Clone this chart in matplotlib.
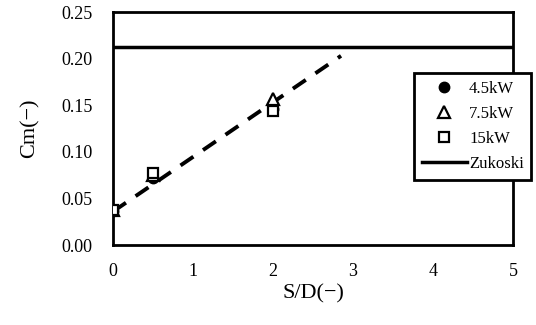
import matplotlib
matplotlib.use("Agg")
import matplotlib.pyplot as plt

sd = [0.0, 0.5, 2.0]
cm_45 = [0.036, 0.072, 0.146]
cm_75 = [0.038, 0.075, 0.157]
cm_15 = [0.038, 0.077, 0.144]
fit_x = [0.0, 2.85]
fit_y = [0.036, 0.203]
zukoski = 0.213
xticks = [0, 1, 2, 3, 4, 5]
yticks = [0.00, 0.05, 0.10, 0.15, 0.20, 0.25]

plt.rcParams['font.family'] = ['Liberation Serif', 'DejaVu Serif']

fig = plt.figure(figsize=(5.36, 3.25), dpi=100)
ax = fig.add_axes([0.211, 0.246, 0.746, 0.717])

ax.plot(fit_x, fit_y, color='black', lw=2.8, ls=(0, (4, 3)), zorder=2)
ax.axhline(zukoski, color='black', lw=2.5, label='Zukoski', zorder=2)
ax.plot(sd, cm_45, 'o', color='black', ms=7.5, label='4.5kW', zorder=3)
ax.plot(sd, cm_75, '^', mfc='white', mec='black', mew=1.6, ms=8, label='7.5kW', zorder=4)
ax.plot(sd, cm_15, 's', mfc='white', mec='black', mew=1.6, ms=7.5, label='15kW', zorder=5)

ax.set_xlim(0, 5)
ax.set_ylim(0, 0.25)
ax.set_xticks(xticks)
ax.set_yticks(yticks)
ax.set_yticklabels([f"{v:.2f}" for v in yticks])
ax.tick_params(length=0, labelsize=13)
ax.tick_params(axis='y', pad=15)
ax.tick_params(axis='x', pad=13)
for s in ax.spines.values():
    s.set_linewidth(2)

ax.set_xlabel('S/D(−)', fontsize=16, labelpad=3)
ax.set_ylabel('Cm(−)', fontsize=16, labelpad=15)

h, l = ax.get_legend_handles_labels()
order = [1, 2, 3, 0]
leg = fig.legend([h[i] for i in order], [l[i] for i in order],
                 loc='upper left', bbox_to_anchor=(414/536, 1 - 73/325),
                 frameon=True, fancybox=False, edgecolor='black', framealpha=1,
                 fontsize=12, handlelength=2.7, borderpad=0.45,
                 labelspacing=0.55, handletextpad=0.15, borderaxespad=0)
leg.get_frame().set_linewidth(2)

fig.savefig('out.png', dpi=100)
